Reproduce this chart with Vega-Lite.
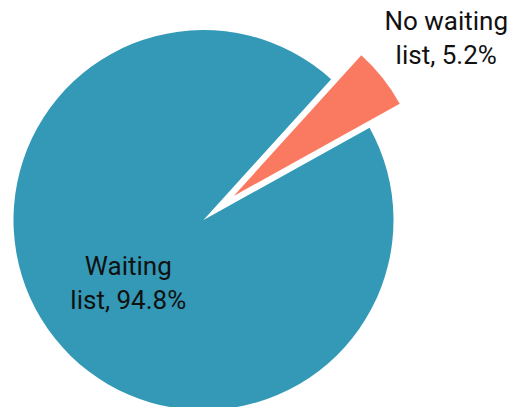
{
  "$schema": "https://vega.github.io/schema/vega-lite/v6.json",
  "width": 407,
  "height": 407,
  "autosize": "none",
  "padding": {"left": 0, "top": 0, "right": 106, "bottom": 0},
  "background": "white",
  "view": {"stroke": null},
  "data": {
    "values": [
      {"category": "No waiting list", "value": 5.2, "label": "No waiting\nlist, 5.2%"},
      {"category": "Waiting list", "value": 94.8, "label": "Waiting\nlist, 94.8%"}
    ]
  },
  "encoding": {
    "theta": {"field": "value", "type": "quantitative", "stack": true, "scale": {"range": [0.7365, 7.0197]}},
    "order": {"field": "category", "sort": "ascending"},
    "color": {"field": "category", "type": "nominal", "legend": null,
      "scale": {"domain": ["No waiting list", "Waiting list"], "range": ["#FA7A61", "#3399B6"]}}
  },
  "layer": [
    {
      "mark": {"type": "arc", "radius": 190, "yOffset": 16.5},
      "encoding": {
        "opacity": {"condition": {"test": "datum.category === 'No waiting list'", "value": 0}, "value": 1}
      }
    },
    {
      "mark": {"type": "arc", "radius": 190, "xOffset": 30.2, "yOffset": -7.5},
      "encoding": {
        "opacity": {"condition": {"test": "datum.category === 'No waiting list'", "value": 1}, "value": 0}
      }
    },
    {
      "mark": {"type": "text", "radius": 96, "dy": -13, "yOffset": 16.5, "font": "Roboto", "fontSize": 26, "lineHeight": 34, "lineBreak": "\n", "align": "center", "baseline": "middle", "color": "#111111"},
      "encoding": {
        "text": {"condition": {"test": "datum.category === 'Waiting list'", "field": "label"}, "value": ""},
        "color": {"value": "#111111"}
      }
    },
    {
      "mark": {"type": "text", "radius": 303, "dx": 5.4, "dy": -9.5, "yOffset": 16.5, "font": "Roboto", "fontSize": 26, "lineHeight": 34, "lineBreak": "\n", "align": "center", "baseline": "middle", "color": "#111111"},
      "encoding": {
        "text": {"condition": {"test": "datum.category === 'No waiting list'", "field": "label"}, "value": ""},
        "color": {"value": "#111111"}
      }
    }
  ]
}
